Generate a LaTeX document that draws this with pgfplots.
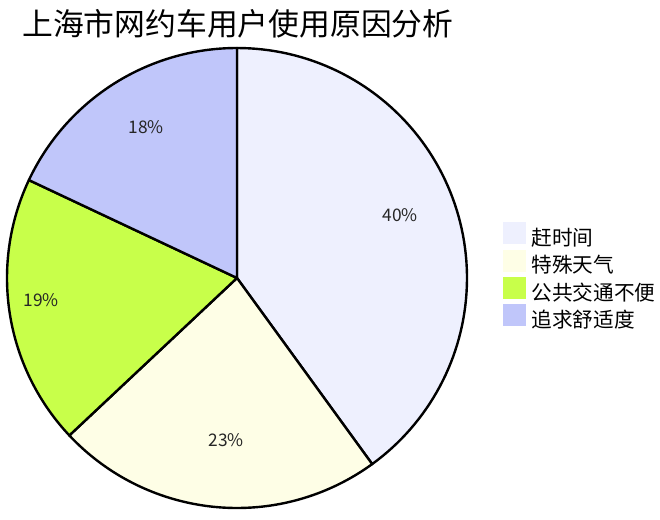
\documentclass[border=0pt]{standalone}
\usepackage{fontspec}
\setmainfont{Noto Sans CJK SC}
\usepackage{pgfplots}
\pgfplotsset{compat=1.18}

\definecolor{cRush}{HTML}{EEF0FE}
\definecolor{cWeather}{HTML}{FEFEE6}
\definecolor{cTransit}{HTML}{C8FF4A}
\definecolor{cComfort}{HTML}{C0C6FA}

% pie centre and radius, in picture pixels (y up)
\def\cx{237}
\def\cy{241}
\def\rad{230}

% \slice{cumulative start in percent}{value in percent}{colour}
\newcommand{\slice}[3]{%
  \pgfmathsetmacro\aEnd{90-3.6*#1}%
  \pgfmathsetmacro\aBeg{90-3.6*(#1+#2)}%
  \edef\temp{\noexpand\addplot[draw=black, line width=1.8pt, line join=round,
      fill=#3, samples=90, domain=\aBeg:\aEnd]
    ({\cx+\rad*cos(x)},{\cy+\rad*sin(x)}) -- (axis cs:\cx,\cy) -- cycle;}%
  \temp}

\begin{document}
\begin{tikzpicture}
  \begin{axis}[
    scale only axis,
    width=495pt, height=389.25pt,
    xmin=0, xmax=660, ymin=0, ymax=519,
    hide axis, clip=false,
    legend cell align=left,
    legend image code/.code={%
      \path[#1, draw=none] (0pt,-3.5pt) rectangle (17.25pt,13pt);},
    legend style={at={(axis cs:503,297)}, anchor=north west, draw=none,
      fill=none, inner sep=0pt, row sep=0pt, column sep=3.9pt,
      nodes={inner sep=0pt, text height=12pt, text depth=3pt,
        font=\fontsize{15.5pt}{18pt}\selectfont}},
  ]
    \path (rel axis cs:0,0) rectangle (rel axis cs:1,1);

    \slice{0}{40}{cRush}
    \addlegendentry{赶时间}
    \slice{40}{23}{cWeather}
    \addlegendentry{特殊天气}
    \slice{63}{19}{cTransit}
    \addlegendentry{公共交通不便}
    \slice{82}{18}{cComfort}
    \addlegendentry{追求舒适度}

    \begin{scope}[every node/.style={font=\fontsize{13pt}{15pt}\selectfont, text=black!85}]
      \node at (axis cs:400,304) {40\%};
      \node at (axis cs:226,79) {23\%};
      \node at (axis cs:41,219) {19\%};
      \node at (axis cs:146,392) {18\%};
    \end{scope}

    \node[anchor=west, inner sep=0pt, font=\fontsize{23.1pt}{26pt}\selectfont]
      at (axis cs:22,495) {上海市网约车用户使用原因分析};
  \end{axis}
\end{tikzpicture}
\end{document}
